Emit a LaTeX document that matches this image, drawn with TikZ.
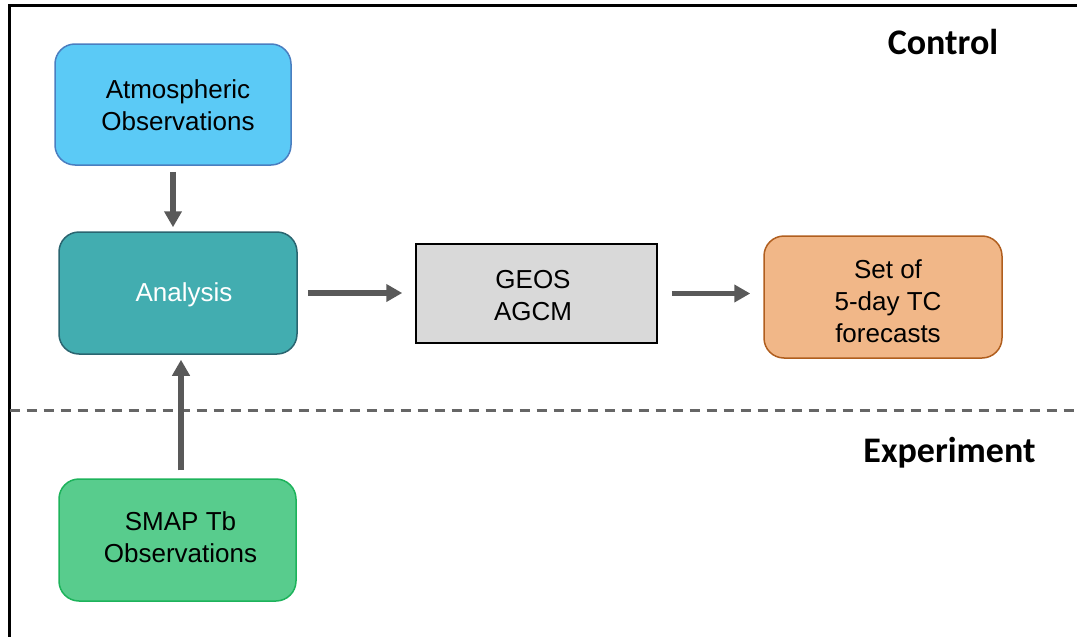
\documentclass[tikz,border=0pt]{standalone}
\usepackage{fontspec}
\setmainfont{Liberation Sans}
\newfontfamily\titlefont{Carlito}
\usetikzlibrary{arrows.meta}
\definecolor{atmosfill}{HTML}{5BCAF6}
\definecolor{atmosdraw}{HTML}{4A7EC0}
\definecolor{anafill}{HTML}{42ADB0}
\definecolor{anadraw}{HTML}{2A6570}
\definecolor{geosfill}{HTML}{D9D9D9}
\definecolor{setfill}{HTML}{F1B788}
\definecolor{setdraw}{HTML}{B05E1E}
\definecolor{smapfill}{HTML}{58CC8D}
\definecolor{smapdraw}{HTML}{1DB35B}
\definecolor{arrowgray}{HTML}{595959}
\definecolor{dashgray}{HTML}{666666}
\begin{document}
\begin{tikzpicture}[x=1pt,y=-1pt,
  rbox/.style={rounded corners=20pt, line width=1.5pt, minimum width=236pt, minimum height=121pt, inner sep=0pt},
  sbox/.style={draw=black, fill=geosfill, line width=1.5pt, minimum width=241pt, minimum height=99pt, inner sep=0pt},
  txt/.style={align=center, inner sep=0pt, font=\fontsize{26}{32}\selectfont},
  ttl/.style={anchor=base, inner sep=0pt, font=\titlefont\bfseries\fontsize{36}{42}\selectfont},
  arr/.style={draw=arrowgray, line width=5.5pt, -{Triangle[length=16pt,width=17pt]}},
  ]
\useasboundingbox (0,0) rectangle (1077,637);
% frame
\coordinate (ftr) at (1077,5.3);
\coordinate (ftl) at (9.7,5.3);
\coordinate (fbl) at (9.7,640);
\draw[line width=3pt] (ftr) -- (ftl) -- (fbl);
% dashed separator
\coordinate (dl) at (9.7,410);
\coordinate (dr) at (1077,410);
\draw[dashgray, line width=3pt, dash pattern=on 10pt off 7pt] (dl) -- (dr);
% boxes
\node[rbox, fill=atmosfill, draw=atmosdraw] (atm) at (173,104.5) {};
\node[txt] (atmt) at (178,105) {Atmospheric\\Observations};
\node[rbox, fill=anafill, draw=anadraw, minimum width=238pt, minimum height=122pt] (ana) at (178,293) {};
\node[txt, text=white] (anat) at (184,295) {Analysis};
\node[sbox] (geos) at (536.5,293.5) {};
\node[txt] (geost) at (533,296) {GEOS\\AGCM};
\node[rbox, fill=setfill, draw=setdraw, minimum width=238pt, minimum height=122pt] (set) at (883,297) {};
\node[txt] (sett) at (888,301) {Set of\\5-day TC\\forecasts};
\node[rbox, fill=smapfill, draw=smapdraw, minimum width=237pt, minimum height=122pt] (smap) at (177.5,540) {};
\node[txt] (smapt) at (180.5,537) {SMAP Tb\\Observations};
% titles
\node[ttl] (ctrl) at (943,54) {Control};
\node[ttl] (expt) at (949.5,462) {Experiment};
% arrows
\draw[arr, shorten <=6pt, shorten >=4pt] (atm.south) -- (atm.south |- ana.north);
\draw[arr, shorten <=10pt, shorten >=13pt] (ana.east) -- (ana.east -| geos.west);
\draw[arr, shorten <=14pt, shorten >=13pt] (geos.east) -- (geos.east -| set.west);
\draw[arr, shorten <=8pt, shorten >=5pt] ([xshift=3.5pt]smap.north) -- ([xshift=3pt]ana.south);
\end{tikzpicture}
\end{document}
